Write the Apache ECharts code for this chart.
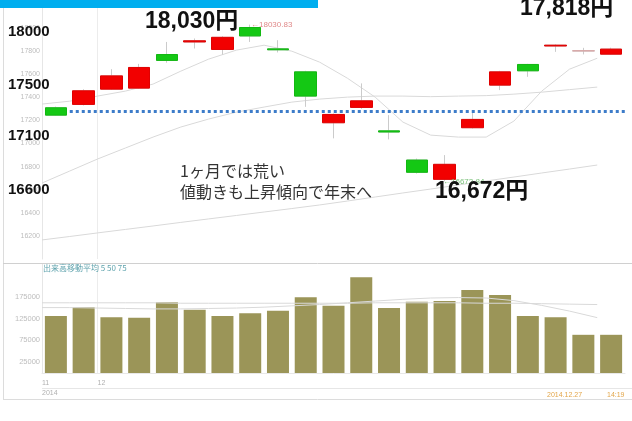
<!DOCTYPE html>
<html>
<head>
<meta charset="utf-8">
<script src="https://cdn.jsdelivr.net/npm/echarts@6/dist/echarts.min.js"></script>
<style>html,body{margin:0;padding:0;background:#fff;}#c{width:632px;height:421px;}</style>
</head>
<body>
<div id="c"></div>
<script>
const dates = ['11/27','11/28','12/1','12/2','12/3','12/4','12/5','12/8','12/9','12/10','12/11','12/12','12/15','12/16','12/17','12/18','12/19','12/22','12/24','12/25','12/26'];
const openP  = [17310,17339,17471,17480,17771,17880,17815,18005,17820,17621,17180,17313,17110,16857,16690,17137,17506,17685,17845,17803,17774];
const closeP = [17246,17457,17586,17659,17720,17890,17920,17932,17812,17411,17252,17370,17100,16751,16820,17209,17621,17630,17852,17803,17818];
const lowP   = [17240,17330,17465,17475,17700,17823,17770,17880,17789,17318,17045,17300,17036,16740,16673,17130,17463,17578,17794,17772,17770];
const highP  = [17320,17470,17644,17690,17880,17910,17930,18030,17895,17630,17260,17521,17246,16870,16900,17290,17630,17690,17860,17829,17830];
const maShort = [17342,17367,17411,17454,17515,17627,17731,17809,17852,17800,17705,17566,17402,17186,17073,17056,17056,17195,17454,17644,17739];
const maMid   = [16658,16762,16866,16961,17056,17143,17212,17272,17316,17359,17385,17402,17411,17411,17406,17411,17415,17428,17445,17467,17489];
const maLong  = [16165,16195,16226,16256,16286,16317,16347,16377,16407,16437,16468,16502,16537,16572,16606,16641,16676,16710,16745,16779,16814];
const volume  = [131000,151000,128000,127000,162000,145000,131000,137000,143000,173500,154000,219600,149000,163600,165000,190500,179000,130600,128000,87600,87600];
const volMaShort = [150000,150000,149000,148000,147000,147000,148000,149000,151000,154000,157000,161000,165000,169000,172000,173000,172000,166000,155000,142000,127000];
const volMaLong  = [161000,161000,161000,161000,161000,160000,160000,160000,160000,160000,160000,160000,161000,161000,161000,161000,160000,160000,159000,158000,157000];
const blueLevel = 17284;
const monthLabels = ['11\n2014', '12'];
const volTicks = [25000, 75000, 125000, 175000];

const offsetCats = dates.concat(['']);
const num = '"Liberation Sans", Arial, "Noto Sans CJK JP", sans-serif';
const jp = '"Noto Sans CJK JP", sans-serif';

const chart = echarts.init(document.getElementById('c'), null, {renderer:'canvas'});
const wickData = openP.map((o,i)=>[o, closeP[i], lowP[i], highP[i]]);
const bodyData = openP.map((o,i)=>[o, closeP[i], Math.min(o,closeP[i]), Math.max(o,closeP[i])]);
const lineBase = {type:'line', symbol:'none', silent:true, lineStyle:{color:'#d9d9d9', width:1}, z:1};

chart.setOption({
  animation:false,
  grid:[{left:42,right:7,top:5,height:254},{left:42,right:7,top:264,height:109}],
  xAxis:[
    {type:'category', gridIndex:0, position:'bottom', data:dates, boundaryGap:true, show:false},
    {type:'category', gridIndex:0, position:'bottom', data:offsetCats, boundaryGap:false, axisLine:{show:false}, axisTick:{show:false}, axisLabel:{show:false},
      splitLine:{show:true, interval:(i)=>i===2, lineStyle:{color:'#ececec'}}},
    {type:'category', gridIndex:1, position:'bottom', data:dates, boundaryGap:true, show:false},
    {type:'category', gridIndex:1, position:'bottom', data:offsetCats, boundaryGap:false, axisLine:{show:true, lineStyle:{color:'#e8e8e8'}}, axisTick:{show:false},
      axisLabel:{interval:(i)=>i===0||i===2, formatter:(v,i)=> i===0?monthLabels[0]:(i===2?monthLabels[1]:''), align:'left', color:'#b0b0b0', fontSize:7, lineHeight:10, margin:5, fontFamily:num},
      splitLine:{show:true, interval:(i)=>i===2, lineStyle:{color:'#ececec'}}}
  ],
  yAxis:[
    {type:'value', gridIndex:0, min:16000, max:18200, interval:200, axisLine:{show:true, lineStyle:{color:'#e6e6e6'}}, axisTick:{show:false}, splitLine:{show:false},
      axisLabel:{color:'#bdbdbd', fontSize:7, margin:2, fontFamily:num, formatter:(v)=> v===16000?'':String(v)}},
    {type:'value', gridIndex:1, min:0, max:250000, interval:25000, axisLine:{show:true, lineStyle:{color:'#e6e6e6'}}, axisTick:{show:false}, splitLine:{show:false},
      axisLabel:{color:'#bdbdbd', fontSize:7.5, margin:2, fontFamily:num, formatter:(v)=> volTicks.indexOf(v)>=0?String(v):''}}
  ],
  series:[
    Object.assign({}, lineBase, {xAxisIndex:1, yAxisIndex:0, data:maShort.concat([null])}),
    Object.assign({}, lineBase, {xAxisIndex:1, yAxisIndex:0, data:maMid.concat([null])}),
    Object.assign({}, lineBase, {xAxisIndex:1, yAxisIndex:0, data:maLong.concat([null]),
      markLine:{silent:true, symbol:['none','none'], label:{show:false}, lineStyle:{color:'#3d7cc9', width:3, type:[3,3], cap:'butt'},
        data:[[{coord:[1, blueLevel]},{coord:[21, blueLevel]}]], z:10}}),
    {type:'candlestick', xAxisIndex:0, yAxisIndex:0, data:wickData, barWidth:22, z:2,
      itemStyle:{color:'rgba(0,0,0,0)', color0:'rgba(0,0,0,0)', borderColor:'#cbcbcb', borderColor0:'#cbcbcb', borderColorDoji:'#cbcbcb', borderWidth:1}},
    {type:'candlestick', xAxisIndex:0, yAxisIndex:0, data:bodyData, barWidth:22, z:3,
      itemStyle:{color:'#f20000', color0:'#14c814', borderColor:'#e00000', borderColor0:'#12b812', borderColorDoji:'#d8a6a6', borderWidth:1}},
    {type:'bar', xAxisIndex:2, yAxisIndex:1, data:volume, barWidth:22, itemStyle:{color:'#9b9558'}, z:2},
    Object.assign({}, lineBase, {xAxisIndex:3, yAxisIndex:1, data:volMaShort.concat([null]), z:3}),
    Object.assign({}, lineBase, {xAxisIndex:3, yAxisIndex:1, data:volMaLong.concat([null]), z:3})
  ],
  graphic:[
    {type:'line', shape:{x1:3.5,y1:0,x2:3.5,y2:399}, style:{stroke:'#dcdcdc', lineWidth:1}, z:50},
    {type:'line', shape:{x1:3,y1:399.5,x2:632,y2:399.5}, style:{stroke:'#dcdcdc', lineWidth:1}, z:50},
    {type:'line', shape:{x1:3,y1:263.5,x2:632,y2:263.5}, style:{stroke:'#d0d0d0', lineWidth:1}, z:50},
    {type:'line', shape:{x1:42,y1:388.5,x2:632,y2:388.5}, style:{stroke:'#e6e6e6', lineWidth:1}, z:50},
    {type:'rect', shape:{x:0,y:0,width:318,height:8}, style:{fill:'#00aeef'}, z:100},
    {type:'text', z:100, style:{text:'18000', x:8, y:32, fill:'#111', font:'bold 15px '+num, verticalAlign:'middle'}},
    {type:'text', z:100, style:{text:'17500', x:8, y:85, fill:'#111', font:'bold 15px '+num, verticalAlign:'middle'}},
    {type:'text', z:100, style:{text:'17100', x:8, y:136, fill:'#111', font:'bold 15px '+num, verticalAlign:'middle'}},
    {type:'text', z:100, style:{text:'16600', x:8, y:190, fill:'#111', font:'bold 15px '+num, verticalAlign:'middle'}},
    {type:'text', z:100, style:{text:'18,030円', x:145, y:22, fill:'#111', font:'bold 23px '+num, verticalAlign:'middle'}},
    {type:'text', z:100, style:{text:'17,818円', x:520, y:9, fill:'#111', font:'bold 23px '+num, verticalAlign:'middle'}},
    {type:'text', z:100, style:{text:'16,672円', x:435, y:192, fill:'#111', font:'bold 23px '+num, verticalAlign:'middle'}},
    {type:'text', z:90, style:{text:'←18030.83', x:251, y:25, fill:'#e08a8a', font:'8px '+num, verticalAlign:'middle'}},
    {type:'text', z:90, style:{text:'←16672.84', x:443, y:182, fill:'#79c079', font:'8px '+num, verticalAlign:'middle'}},
    {type:'text', z:100, style:{text:'1ヶ月では荒い', x:180, y:171, fill:'#333', font:'16px '+jp, verticalAlign:'middle'}},
    {type:'text', z:100, style:{text:'値動きも上昇傾向で年末へ', x:180, y:192, fill:'#333', font:'16px '+jp, verticalAlign:'middle'}},
    {type:'text', z:100, style:{text:'出来高移動平均 5 50 75', x:43, y:268, fill:'#5fa3ad', font:'8px '+jp, verticalAlign:'middle'}},
    {type:'text', z:100, style:{text:'2014.12.27', x:547, y:395, fill:'#e3a64a', font:'7px '+num, verticalAlign:'middle'}},
    {type:'text', z:100, style:{text:'14:19', x:607, y:395, fill:'#e3a64a', font:'7px '+num, verticalAlign:'middle'}}
  ]
});
</script>
</body>
</html>
